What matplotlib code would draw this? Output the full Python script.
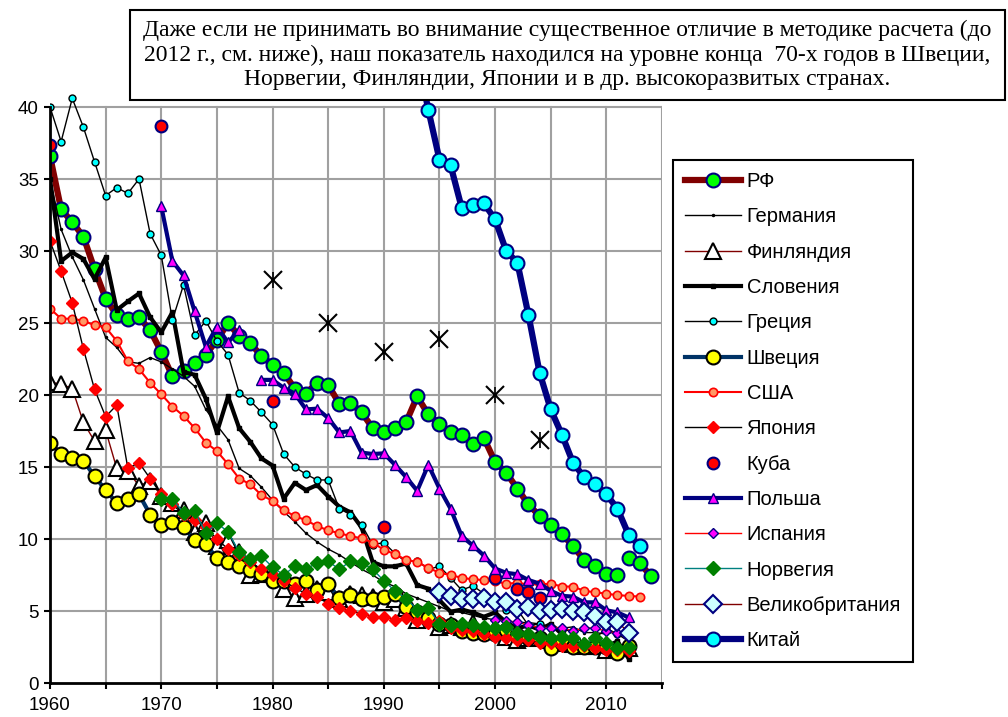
import numpy as np
import matplotlib
matplotlib.use('Agg')
import matplotlib.pyplot as plt
from matplotlib.patches import Rectangle

plt.rcParams['font.family'] = ['Liberation Sans', 'DejaVu Sans']

# ~~~~~~~~~~~~~~~~~~~~~~~~~~~~~~~~~~~~~~~~~ Data ~~~~~~~~~~~~~~~~~~~~~~~~~~~~~~~~~~~~~~~~~

years_60_11 = np.arange(1960, 2012)
years_60_12 = np.arange(1960, 2013)
years_60_13 = np.arange(1960, 2014)
years_70_12 = np.arange(1970, 2013)

rf_old = [36.6, 32.9, 32.0, 31.0, 28.75, 26.7, 25.55, 25.3, 25.4, 24.5,
          23.0, 21.3, 21.7, 22.25, 22.8, 23.8, 25.0, 24.1, 23.6, 22.7,
          22.1, 21.55, 20.45, 20.1, 20.85, 20.7, 19.4, 19.45, 18.8, 17.7,
          17.4, 17.7, 18.1, 19.9, 18.65, 18.0, 17.4, 17.25, 16.6, 17.0,
          15.35, 14.6, 13.5, 12.4, 11.6, 11.0, 10.35, 9.5, 8.55, 8.1,
          7.6, 7.5]
rf_new_years = [2012, 2013, 2014]
rf_new = [8.65, 8.3, 7.45]

germany = [35.0, 31.5, 29.6, 28.0, 26.0, 24.0, 23.3, 22.3, 22.2, 22.6,
           22.3, 21.8, 21.3, 20.6, 19.0, 17.9, 16.9, 14.9, 14.4, 13.6,
           12.7, 11.9, 11.2, 10.4, 9.8, 9.3, 8.9, 8.4, 7.9, 7.5,
           7.0, 6.7, 6.2, 5.9, 5.6, 5.3, 5.0, 4.9, 4.7, 4.5,
           4.4, 4.3, 4.2, 4.2, 4.1, 3.9, 3.8, 3.9, 3.5, 3.5,
           3.4, 3.6, 3.3]

finland = [20.9, 20.75, 20.45, 18.1, 16.8, 17.55, 14.9, 14.7, 13.7, 14.0,
           13.0, 12.5, 12.0, 10.5, 11.1, 9.5, 9.9, 9.1, 7.5, 7.6,
           7.6, 6.5, 5.9, 6.2, 6.5, 6.3, 5.8, 6.2, 6.1, 6.0,
           5.6, 5.8, 5.2, 4.4, 4.7, 3.9, 4.0, 3.9, 4.2, 3.6,
           3.8, 3.2, 3.0, 3.1, 3.3, 3.0, 2.8, 2.7, 2.6, 2.6,
           2.3, 2.4, 2.4]

slovenia = [35.0, 29.3, 29.9, 29.45, 28.05, 29.55, 25.9, 26.5, 27.05, 25.4,
            24.35, 25.75, 21.6, 21.4, 19.75, 17.4, 19.9, 17.7, 16.75, 15.6,
            15.1, 12.8, 13.9, 13.4, 13.75, 12.95, 12.25, 11.85, 10.8, 8.4,
            8.1, 8.1, 8.3, 6.8, 6.55, 5.75, 4.95, 5.1, 4.9, 4.6,
            4.9, 4.2, 3.8, 4.0, 3.7, 4.1, 3.4, 2.8, 2.4, 2.4,
            2.5, 2.9, 1.7]

greece = [40.0, 37.6, 40.6, 38.6, 36.2, 33.85, 34.4, 34.0, 35.0, 31.2,
          29.7, 25.2, 27.65, 24.15, 25.15, 23.75, 22.8, 20.15, 19.6, 18.8,
          17.95, 15.9, 15.0, 14.5, 14.1, 14.1, 12.1, 11.7, 11.0, 9.6,
          9.75, 9.0, 8.4, 8.5, 7.9, 8.1, 7.3, 6.45, 6.75, 6.2,
          5.9, 5.1, 5.1, 4.0, 4.1, 3.8, 3.7, 3.6, 2.7, 3.1,
          3.8, 3.4, 2.9]

sweden = [16.7, 15.9, 15.6, 15.45, 14.35, 13.4, 12.5, 12.8, 13.1, 11.7,
          10.95, 11.15, 10.85, 9.9, 9.65, 8.65, 8.4, 8.15, 7.85, 7.55,
          7.05, 7.1, 6.9, 7.05, 6.45, 6.85, 5.9, 6.1, 5.8, 5.8,
          6.0, 6.2, 5.3, 4.9, 4.5, 4.1, 4.0, 3.6, 3.5, 3.4,
          3.4, 3.7, 3.3, 3.1, 3.1, 2.4, 2.8, 2.5, 2.5, 2.5,
          2.5, 2.1, 2.6]

usa = [26.0, 25.3, 25.3, 25.15, 24.85, 24.7, 23.75, 22.35, 21.8, 20.85,
       20.05, 19.2, 18.55, 17.7, 16.7, 16.1, 15.2, 14.2, 13.8, 13.05,
       12.65, 12.0, 11.6, 11.3, 10.9, 10.6, 10.4, 10.2, 10.05, 9.75,
       9.25, 8.95, 8.55, 8.4, 8.0, 7.65, 7.5, 7.3, 7.2, 7.15,
       7.05, 6.9, 6.95, 6.85, 6.85, 6.9, 6.7, 6.7, 6.4, 6.3,
       6.2, 6.1, 6.05, 6.0]

japan = [30.7, 28.6, 26.4, 23.2, 20.4, 18.5, 19.3, 14.9, 15.3, 14.2,
         13.1, 12.4, 11.7, 11.3, 10.8, 10.0, 9.3, 8.9, 8.4, 7.9,
         7.5, 7.1, 6.6, 6.2, 6.0, 5.5, 5.2, 5.0, 4.8, 4.6,
         4.6, 4.4, 4.5, 4.3, 4.2, 4.3, 3.8, 3.7, 3.6, 3.4,
         3.2, 3.1, 3.0, 3.0, 2.8, 2.8, 2.6, 2.6, 2.6, 2.4,
         2.3, 2.3, 2.2]

cuba_years = [1960, 1970, 1980, 1990, 2000, 2002, 2003, 2004]
cuba = [37.35, 38.7, 19.6, 10.8, 7.3, 6.55, 6.35, 5.9]

# 1978 is missing for Poland (gap in the line)
poland = [33.1, 29.3, 28.3, 25.8, 23.35, 24.75, 23.65, 24.5, np.nan, 21.05,
          21.05, 20.5, 20.1, 19.0, 19.05, 18.4, 17.4, 17.5, 16.0, 15.9,
          15.95, 15.15, 14.3, 13.35, 15.15, 13.5, 12.1, 10.2, 9.55, 8.85,
          7.95, 7.65, 7.55, 7.15, 6.9, 6.4, 6.05, 6.0, 5.6, 5.6,
          5.05, 4.9, 4.55]

spain_years = np.arange(2000, 2013)
spain = [4.4, 4.3, 4.25, 4.0, 3.85, 3.85, 3.85, 3.6, 3.85, 3.8, 3.6, 3.45, 3.55]

norway = [12.8, 12.8, 11.8, 11.95, 10.4, 11.1, 10.5, 9.1, 8.6, 8.8,
          8.05, 7.5, 8.1, 7.9, 8.35, 8.45, 7.9, 8.45, 8.35, 7.9,
          7.1, 6.4, 5.85, 5.1, 5.2, 4.1, 4.0, 4.1, 4.0, 3.9,
          3.8, 3.9, 3.5, 3.4, 3.2, 3.1, 3.2, 3.1, 2.7, 3.1,
          2.8, 2.4, 2.5]

uk_years = np.arange(1995, 2013)
uk = [6.35, 6.05, 5.8, 5.8, 5.9, 5.6, 5.65, 5.15, 5.3, 5.0,
      5.1, 5.15, 5.0, 4.9, 4.65, 4.25, 4.25, 3.5]

china_years = np.arange(1991, 2014)
china = [50.2, 46.7, 43.6, 39.8, 36.35, 35.95, 33.0, 33.2, 33.3, 32.2,
         30.0, 29.2, 25.55, 21.55, 19.0, 17.25, 15.3, 14.3, 13.8, 13.1,
         12.1, 10.3, 9.5]

# unlabeled star markers
star_years = [1980, 1985, 1990, 1995, 2000, 2004]
stars = [28.0, 25.0, 23.0, 23.9, 20.0, 16.9]

note = ('Даже если не принимать во внимание существенное отличие в методике расчета (до\n'
        '2012 г., см. ниже), наш показатель находился на уровне конца  70-х годов в Швеции,\n'
        'Норвегии, Финляндии, Японии и в др. высокоразвитых странах.')

# ~~~~~~~~~~~~~~~~~~~~~~~~~~~~~~~~~~~~~~~~~~~~~~~~~~ Plot ~~~~~~~~~~~~~~~~~~~~~~~~~~~~~~~~~~~~~~~~~~~~~~~~~~~~~~~~~~

fig = plt.figure(figsize=(10.08, 7.17), dpi=100)
ax = fig.add_axes([50 / 1008, 1 - 683 / 717, 612 / 1008, (683 - 92.6) / 717])

# grid drawn by hand so it stops at 40
for gx in range(1960, 2016, 5):
    ax.plot([gx, gx], [0, 40], color='#a0a0a0', lw=1.5, zorder=0)
for gy in range(5, 41, 5):
    ax.plot([1960, 2015], [gy, gy], color='#a0a0a0', lw=1.5, zorder=0)

ax.plot(years_60_11, rf_old, color='#800000', lw=4.5, marker='o', ms=10,
        mfc='#00ff00', mec='#000080', mew=1.5, label='РФ')
ax.plot(rf_new_years, rf_new, color='#800000', lw=4.5, marker='o', ms=10,
        mfc='#00ff00', mec='#000080', mew=1.5)
ax.plot(years_60_12, germany, color='black', lw=1, marker='.', ms=3, label='Германия')
ax.plot(years_60_12, finland, color='#800000', lw=1, marker='^', ms=11,
        mfc='white', mec='black', mew=1.5, label='Финляндия')
ax.plot(years_60_12, slovenia, color='black', lw=3, marker='s', ms=2.5, label='Словения')
ax.plot(years_60_12, greece, color='black', lw=1, marker='o', ms=5,
        mfc='#00ffff', mec='black', mew=1, label='Греция')
ax.plot(years_60_12, sweden, color='#003366', lw=3, marker='o', ms=10,
        mfc='#ffff00', mec='black', mew=1.5, label='Швеция')
ax.plot(years_60_13, usa, color='red', lw=1.5, marker='o', ms=6,
        mfc='#ff9966', mec='red', mew=1.2, label='США')
ax.plot(years_60_12, japan, color='black', lw=1, marker='D', ms=6,
        mfc='red', mec='red', label='Япония')
ax.plot(cuba_years, cuba, linestyle='none', marker='o', ms=8.5,
        mfc='red', mec='#000080', mew=1.5, label='Куба')
ax.plot(years_70_12, poland, color='#000080', lw=3, marker='^', ms=7,
        mfc='#ff00ff', mec='#000080', mew=1, label='Польша')
ax.plot(spain_years, spain, color='red', lw=1, marker='D', ms=5,
        mfc='#ff00ff', mec='#000080', mew=1, label='Испания')
ax.plot(years_70_12, norway, color='#008080', lw=1, marker='D', ms=7,
        mfc='#008000', mec='#008000', label='Норвегия')
ax.plot(uk_years, uk, color='#800000', lw=1, marker='D', ms=9,
        mfc='#ccffff', mec='#000080', mew=1.5, label='Великобритания')
ax.plot(china_years, china, color='#000080', lw=4.5, marker='o', ms=10,
        mfc='#00ffff', mec='#000080', mew=1.5, label='Китай')
ax.plot(star_years, stars, linestyle='none', marker='x', ms=13, color='black', mew=1.5)
ax.plot(star_years, stars, linestyle='none', marker='|', ms=12, color='black', mew=1.2)

# axes
ax.set_xlim(1960, 2015)
ax.set_ylim(0, 41)
ax.spines['top'].set_visible(False)
ax.spines['right'].set_visible(False)
ax.spines['left'].set_bounds(0, 40)
ax.spines['left'].set_linewidth(2)
ax.spines['bottom'].set_linewidth(2)
ax.set_xticks(range(1960, 2016, 5))
ax.set_xticklabels([str(y) if y % 10 == 0 else '' for y in range(1960, 2016, 5)])
ax.set_yticks(range(0, 41, 5))
ax.tick_params(axis='both', direction='out', length=4, width=1.5, labelsize=13.5)
ax.tick_params(axis='x', pad=6)
ax.tick_params(axis='y', pad=4)

# legend
leg = ax.legend(loc='upper left', bbox_to_anchor=(673 / 1008, 1 - 160 / 717),
                bbox_transform=fig.transFigure, borderaxespad=0, fancybox=False,
                edgecolor='black', framealpha=1, fontsize=14.5, handlelength=2.8,
                handletextpad=0.25, labelspacing=0.81, borderpad=0.6, numpoints=1)
leg.get_frame().set_linewidth(1.5)

# note box at the top
fig.patches.append(Rectangle((130 / 1008, 1 - 100 / 717), 875 / 1008, 90 / 717,
                             transform=fig.transFigure, facecolor='white',
                             edgecolor='black', lw=1.5, zorder=10))
fig.text(567 / 1008, 1 - 55 / 717, note, ha='center', va='center', multialignment='center',
         family=['Liberation Serif', 'DejaVu Serif'], fontsize=17, linespacing=1.2, zorder=11)

fig.savefig('out.png', dpi=100)
